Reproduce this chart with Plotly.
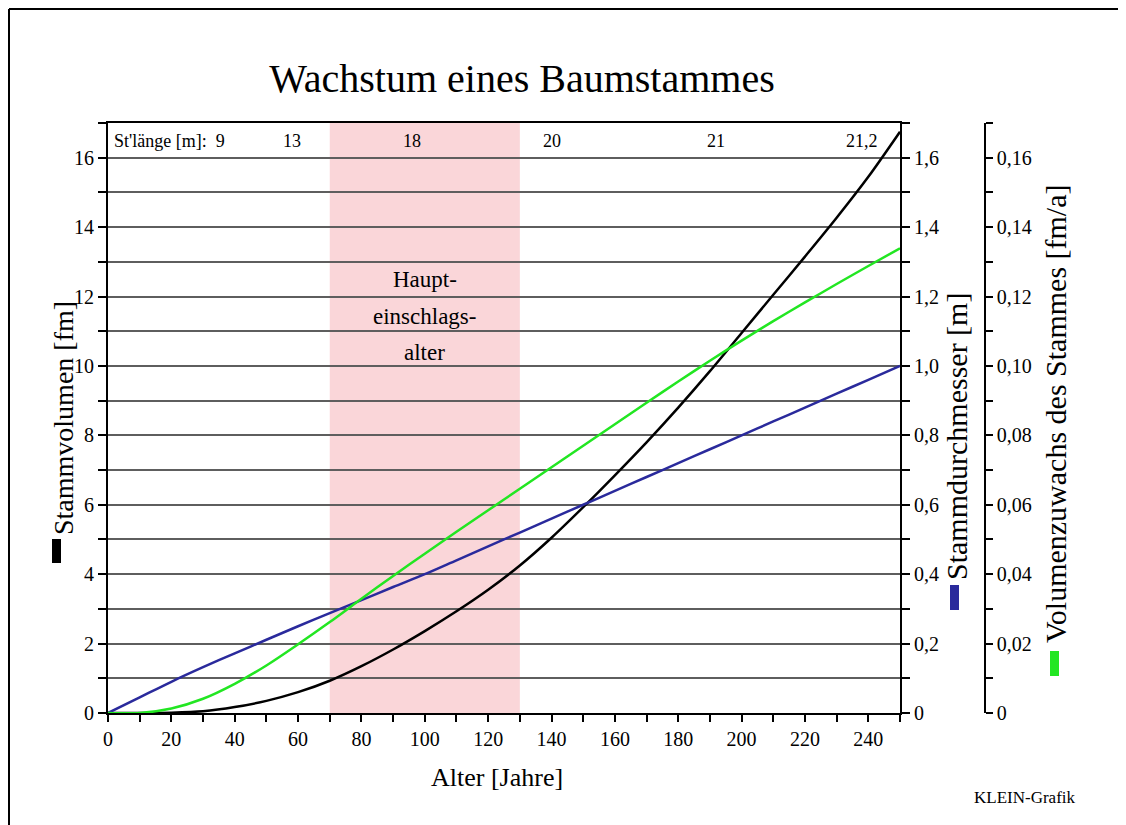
import plotly.graph_objects as go

# ---------------- data ----------------
alter = [0, 10, 20, 30, 40, 50, 60, 70, 80, 90, 100, 110, 120, 130, 140, 150,
         160, 170, 180, 190, 200, 210, 220, 230, 240, 250]
stammvolumen_fm = [0, 0, 0.01, 0.05, 0.17, 0.35, 0.60, 0.93, 1.35, 1.83, 2.36, 2.93, 3.55,
                   4.25, 5.05, 5.93, 6.85, 7.8, 8.8, 9.85, 10.95, 12.05, 13.15, 14.27, 15.45, 16.75]
stammdurchmesser_m = [0, 0.045, 0.09, 0.132, 0.172, 0.211, 0.25, 0.288, 0.325, 0.363, 0.40,
                      0.44, 0.48, 0.52, 0.56, 0.60, 0.64, 0.68, 0.72, 0.76, 0.80, 0.84,
                      0.88, 0.92, 0.96, 1.0]
volumenzuwachs_fma = [0, 0, 0.0013, 0.0041, 0.0084, 0.0137, 0.0198, 0.0262, 0.0329, 0.0395,
                      0.0459, 0.0522, 0.0584, 0.0646, 0.0708, 0.077, 0.0832, 0.0894, 0.0955,
                      0.1015, 0.1073, 0.1129, 0.1183, 0.1236, 0.1288, 0.1339]

hauptalter = [70, 130]
laenge_alter = [58, 96, 140, 192, 238]
laenge_text = ["13", "18", "20", "21", "21,2"]

y1_ticks = [0, 2, 4, 6, 8, 10, 12, 14, 16]
y2_tickvals = [0, 0.2, 0.4, 0.6, 0.8, 1.0, 1.2, 1.4, 1.6]
y2_ticktext = ["0", "0,2", "0,4", "0,6", "0,8", "1,0", "1,2", "1,4", "1,6"]
y3_tickvals = [0, 0.02, 0.04, 0.06, 0.08, 0.10, 0.12, 0.14, 0.16]
y3_ticktext = ["0", "0,02", "0,04", "0,06", "0,08", "0,10", "0,12", "0,14", "0,16"]

# ---------------- layout helpers ----------------
OFF = 8                      # page body margin
W, H = 1126 - OFF, 825 - OFF
L, R, T, B = 108 - OFF, 60, 123 - OFF, 112
PW = W - L - R
PH = H - T - B
def xp(sx):
    return (sx - OFF - L) / PW
def yp(sy):
    return (H - B - (sy - OFF)) / PH

FONT = "Liberation Serif, Times New Roman, serif"
BLACK = "#000000"
BLUE = "#2a2a9c"
GREEN = "#22e622"
GRID = "#5e5e5e"

fig = go.Figure()
fig.add_trace(go.Scatter(x=alter, y=stammdurchmesser_m, yaxis="y2", mode="lines",
                         line=dict(color=BLUE, width=2.5, shape="spline", smoothing=0.8),
                         showlegend=False))
fig.add_trace(go.Scatter(x=alter, y=volumenzuwachs_fma, yaxis="y3", mode="lines",
                         line=dict(color=GREEN, width=2.5, shape="spline", smoothing=0.8),
                         showlegend=False))
fig.add_trace(go.Scatter(x=alter, y=stammvolumen_fm, yaxis="y", mode="lines",
                         line=dict(color=BLACK, width=2.5, shape="spline", smoothing=0.8),
                         showlegend=False))

fig.add_vrect(x0=hauptalter[0], x1=hauptalter[1], fillcolor="rgb(250,214,217)",
              line_width=0, layer="below")

tickfont = dict(family=FONT, size=20, color=BLACK)
fig.update_layout(
    width=W, height=H,
    margin=dict(l=L, r=R, t=T, b=B),
    paper_bgcolor="white", plot_bgcolor="white",
    title=dict(text="Wachstum eines Baumstammes", x=(522 - OFF) / W, xanchor="center",
               y=1 - (78 - OFF) / H, yanchor="middle",
               font=dict(family=FONT, size=40, color=BLACK)),
    xaxis=dict(domain=[0, xp(900)], range=[0, 250], tickvals=list(range(0, 250, 20)),
               ticks="outside", ticklen=7, tickwidth=1.5, tickcolor=BLACK,
               minor=dict(dtick=10, ticks="outside", ticklen=7, tickwidth=1.5, tickcolor=BLACK),
               showline=True, linecolor=BLACK, linewidth=2, mirror=True,
               showgrid=False, zeroline=False, tickfont=tickfont),
    yaxis=dict(range=[0, 17], tickvals=y1_ticks, ticks="outside", ticklen=8,
               tickwidth=1.5, tickcolor=BLACK,
               minor=dict(dtick=1, ticks="outside", ticklen=8, tickwidth=1.5,
                          tickcolor=BLACK, showgrid=True, gridcolor=GRID, gridwidth=2),
               showgrid=True, gridcolor=GRID, gridwidth=2,
               showline=True, linecolor=BLACK, linewidth=2, mirror=True,
               zeroline=False, tickfont=tickfont),
    yaxis2=dict(range=[0, 1.7], overlaying="y", side="right", anchor="x",
                tickvals=y2_tickvals, ticktext=y2_ticktext, ticks="outside", ticklen=8,
                tickwidth=1.5, tickcolor=BLACK,
                minor=dict(dtick=0.1, ticks="outside", ticklen=8, tickwidth=1.5, tickcolor=BLACK),
                showline=True, linecolor=BLACK, linewidth=2, showgrid=False,
                zeroline=False, tickfont=tickfont),
    yaxis3=dict(range=[0, 0.17], overlaying="y", side="right", anchor="free",
                position=xp(985), tickvals=y3_tickvals, ticktext=y3_ticktext,
                ticks="outside", ticklen=7, tickwidth=1.5, tickcolor=BLACK,
                minor=dict(dtick=0.01, ticks="outside", ticklen=7, tickwidth=1.5, tickcolor=BLACK),
                showline=True, linecolor=BLACK, linewidth=1.5, showgrid=False,
                zeroline=False, tickfont=tickfont),
)

def note(text, x, y, size, xref="paper", angle=0, xanchor="center"):
    return dict(text=text, xref=xref, yref="paper", x=x, y=y, textangle=angle,
                xanchor=xanchor, yanchor="middle", showarrow=False,
                font=dict(family=FONT, size=size, color=BLACK))

ann = []
ann.append(note("Alter [Jahre]", xp(497), yp(777), 26))
ann.append(note("Stammvolumen [fm]", xp(63), yp(418), 28, angle=-90))
ann.append(note("Stammdurchmesser [m]", xp(956), yp(437), 30, angle=-90))
ann.append(note("Volumenzuwachs des Stammes [fm/a]", xp(1055), yp(414), 30, angle=-90))
for txt, yy in zip(["Haupt-", "einschlags-", "alter"], [279, 316, 352]):
    ann.append(note(txt, sum(hauptalter) / 2, yp(yy), 23, xref="x"))
ann.append(note("St'länge [m]:  9", xp(112), yp(141), 18, xanchor="left"))
for a, t in zip(laenge_alter, laenge_text):
    ann.append(note(t, a, yp(141), 18, xref="x"))
ann.append(note("KLEIN-Grafik", xp(1025), yp(797), 17))
fig.update_layout(annotations=ann)

shapes = [
    dict(type="rect", xref="paper", yref="paper", x0=xp(52), x1=xp(61), y0=yp(563), y1=yp(539),
         fillcolor=BLACK, line_width=0),
    dict(type="rect", xref="paper", yref="paper", x0=xp(950), x1=xp(959), y0=yp(610), y1=yp(585),
         fillcolor=BLUE, line_width=0),
    dict(type="rect", xref="paper", yref="paper", x0=xp(1050), x1=xp(1059), y0=yp(676), y1=yp(651),
         fillcolor=GREEN, line_width=0),
    dict(type="line", xref="paper", yref="paper", x0=xp(9), x1=xp(1140), y0=yp(9), y1=yp(9),
         line=dict(color=BLACK, width=2)),
    dict(type="line", xref="paper", yref="paper", x0=xp(9), x1=xp(9), y0=yp(9), y1=yp(840),
         line=dict(color=BLACK, width=2)),
]
for s in shapes:
    fig.add_shape(**s)

fig.write_html("out.html")
